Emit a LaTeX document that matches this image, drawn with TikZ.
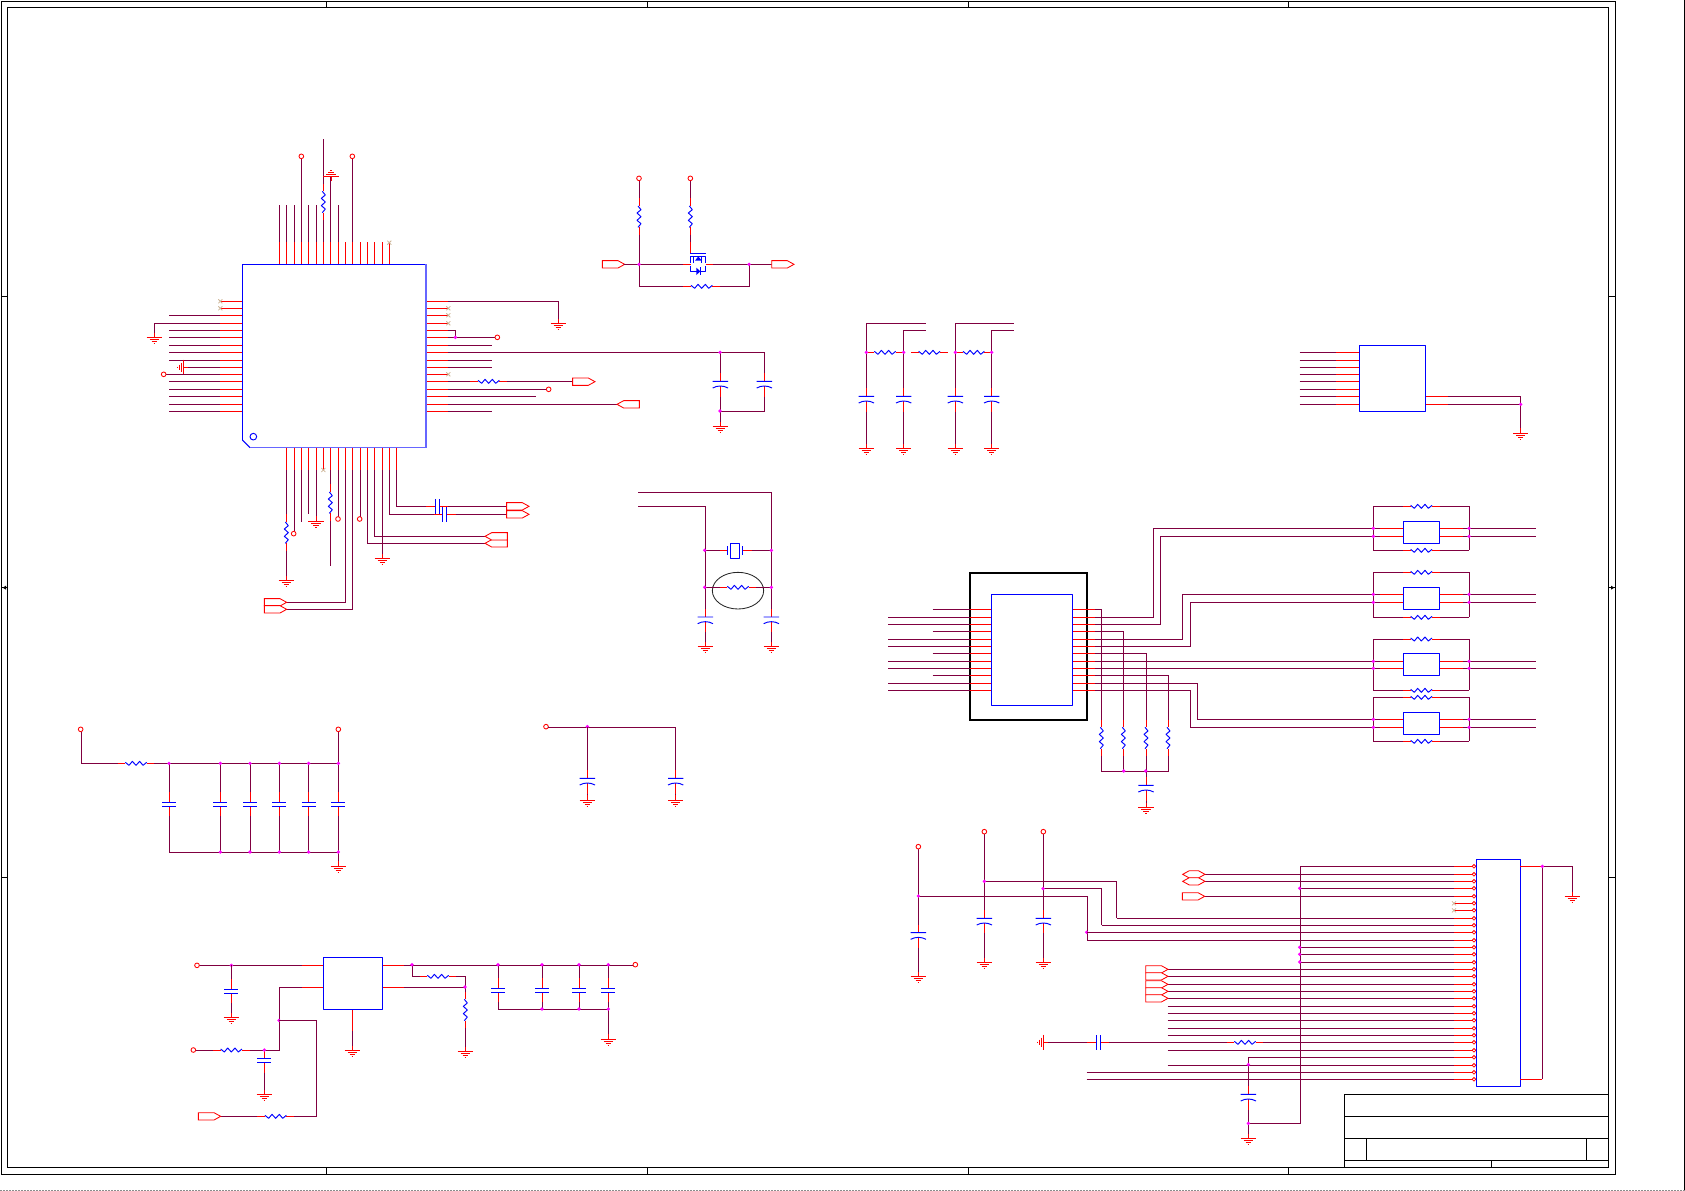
\documentclass[tikz,border=0pt]{standalone}
\definecolor{wirec}{RGB}{128,0,64}
\definecolor{xmk}{RGB}{205,180,150}
\definecolor{juncc}{RGB}{255,0,255}
\tikzset{
 wirel/.style={draw=wirec,line width=0.95pt},
 pinl/.style={draw=red,line width=0.95pt},
 compl/.style={draw=blue,line width=0.95pt,line join=round},
 gndl/.style={draw=red,line width=0.8pt},
 framl/.style={draw=black,line width=0.95pt},
 opl/.style={draw=red,fill=white,line width=0.85pt}
}
\newcommand\Wr[1]{\draw[wirel] #1;}
\newcommand\Pn[1]{\draw[pinl] #1;}
\newcommand\Gnd[2]{\begin{scope}[shift={(#1,#2)}]
 \draw[gndl] (0,-14)--(0,0) (-23,0)--(23,0) (-14,6)--(14,6) (-8,12)--(8,12) (-2,18)--(2,18);\end{scope}}
\newcommand\GndUp[2]{\begin{scope}[shift={(#1,#2)}]
 \draw[gndl] (0,14)--(0,0) (-23,0)--(23,0) (-14,-6)--(14,-6) (-8,-12)--(8,-12) (-2,-18)--(2,-18);\end{scope}}
\newcommand\GndL[2]{\begin{scope}[shift={(#1,#2)}]
 \draw[gndl] (14,0)--(0,0) (0,-23)--(0,23) (-6,-14)--(-6,14) (-12,-8)--(-12,8) (-18,-2)--(-18,2);\end{scope}}
\newcommand\Oc{}
\renewcommand\Oc[2]{\draw[red,fill=white,line width=0.85pt] (#1,#2) circle[radius=7];}
\newcommand\Oq[2]{\draw[red,fill=white,line width=0.75pt] (#1,#2) circle[radius=5.5];}
\newcommand\Jn[2]{\fill[juncc] (#1,#2) circle[radius=5.5];}
\newcommand\Xm[2]{\draw[xmk,line width=0.8pt] (#1-6,#2-6)--(#1+6,#2+6) (#1-6,#2+6)--(#1+6,#2-6);}
\newcommand\Zig{\draw[compl] (-32,-3)--(-21,6)--(-11,-6)--(0,6)--(11,-6)--(21,6)--(32,-3);\draw[pinl] (-55,0)--(-32,0) (32,0)--(55,0);}
\newcommand\ResH[2]{\begin{scope}[shift={(#1,#2)}]\Zig\end{scope}}
\newcommand\ResV[2]{\begin{scope}[shift={(#1,#2)},rotate=90]\Zig\end{scope}}
\newcommand\CapF[2]{\begin{scope}[shift={(#1,#2)}]
 \draw[pinl] (0,-36)--(0,-6) (0,6)--(0,36);
 \draw[compl] (-21,-6)--(21,-6) (-21,6)--(21,6);\end{scope}}
\newcommand\CapC[2]{\begin{scope}[shift={(#1,#2)}]
 \draw[pinl] (0,-34)--(0,-10) (0,4)--(0,36);
 \draw[compl] (-23,-10)--(23,-10) (-23,10) .. controls (-9,2) and (9,2) .. (23,10);\end{scope}}
\newcommand\CapH[2]{\begin{scope}[shift={(#1,#2)}]
 \draw[pinl] (-33,0)--(-6,0) (6,0)--(33,0);
 \draw[compl] (-6,-22)--(-6,22) (6,-22)--(6,22);\end{scope}}
\newcommand\OpR[2]{\begin{scope}[shift={(#1,#2)}]\draw[opl] (0,-11)--(47,-11)--(67,0)--(47,11)--(0,11)--cycle;\end{scope}}
\newcommand\OpL[2]{\begin{scope}[shift={(#1,#2)}]\draw[opl] (0,-11)--(-47,-11)--(-67,0)--(-47,11)--(0,11)--cycle;\end{scope}}
\newcommand\OpB[2]{\begin{scope}[shift={(#1,#2)}]\draw[opl] (0,0)--(20,-11)--(47,-11)--(67,0)--(47,11)--(20,11)--cycle;\end{scope}}
\begin{document}
\begin{tikzpicture}[x=0.33333pt,y=-0.33333pt]
\useasboundingbox (0,0) rectangle (5055,3573);
% ---- sheet frame
\draw[framl] (4,4) rectangle (4847,3523);
\draw[framl] (22,22) rectangle (4825,3502);
\foreach \x in {980,1941,2904,3865}{\draw[framl] (\x,4)--(\x,22) (\x,3502)--(\x,3523);}
\foreach \y in {890,1763,2631}{\draw[framl] (4,\y)--(22,\y) (4825,\y)--(4847,\y);}
\fill (8,1763)--(18,1757)--(18,1769)--cycle;
\fill (4843,1763)--(4833,1757)--(4833,1769)--cycle;
\draw[framl] (5053,0)--(5053,3573);
\draw[black!45,line width=0.6pt,dash pattern=on 1.5pt off 1.5pt] (0,3572)--(5055,3572);
% title block
\draw[framl] (4033,3283)--(4825,3283) (4033,3349)--(4825,3349) (4033,3415)--(4825,3415) (4033,3481)--(4825,3481);
\draw[framl] (4033,3283)--(4033,3502) (4099,3415)--(4099,3481) (4759,3415)--(4759,3481) (4474,3481)--(4474,3502);
% ---- main IC
\begin{scope}[shift={(390,390)}]
 \foreach \x in {448,469,493,514,535,559,580,601,625,646,667,691,712,733,757,778}{\Pn{(\x,403)--(\x,335)}}
 \foreach \x in {448,469,493,535,559,625}{\Wr{(\x,335)--(\x,225)}}
 \Wr{(514,335)--(514,85)} \Oc{514}{79}
 \Wr{(667,335)--(667,85)} \Oc{667}{79}
 \Wr{(580,335)--(580,271)} \ResV{580}{216} \Wr{(580,161)--(580,27)}
 \Wr{(601,335)--(601,140)} \GndUp{603}{139}
 \Xm{778}{338}
 % left
 \foreach \y in {514,535,556,580,601,622,646,667,691,712,733,754,778,799,823,844}{\Pn{(270,\y)--(337,\y)}}
 \foreach \y in {556,601,622,646,667,691,754,778,799,823,844}{\Wr{(117,\y)--(270,\y)}}
 \Xm{271}{514} \Xm{271}{535}
 \Wr{(270,580)--(73,580)--(73,620)} \Gnd{73}{622}
 \Wr{(270,712)--(160,712)} \GndL{160}{712}
 \Wr{(270,733)--(108,733)} \Oc{101}{733}
 % right
 \foreach \y in {514,535,556,580,601,622,646,667,691,712,733,754,778,799,823,844}{\Pn{(888,\y)--(955,\y)}}
 \foreach \y in {535,556,580,733}{\Xm{955}{\y}}
 \Wr{(955,514)--(1285,514)--(1285,578)} \Gnd{1285}{580}
 \Wr{(955,601)--(976,601)--(976,622)}
 \Wr{(955,622)--(1095,622)} \Jn{976}{622} \Oc{1102}{622}
 \foreach \y in {646,691,712,844}{\Wr{(955,\y)--(1087,\y)}}
 \Wr{(955,667)--(1770,667)}
 \Wr{(955,754)--(1021,754)} \ResH{1076}{754} \Wr{(1131,754)--(1328,754)} \OpR{1328}{755}
 \Wr{(955,778)--(1250,778)} \Oc{1256}{778}
 \Wr{(955,799)--(1219,799)}
 \Wr{(955,823)--(1462,823)} \OpL{1528}{823}
 % body
 \draw[compl] (337,930)--(337,403)--(888,403);
 \draw[compl] (337,930)--(360,953);
 \draw[blue!60!white,line width=1.5pt,line join=miter] (888,403)--(888,953)--(360,953);
 \draw[compl] (370,920) circle[radius=10];
\end{scope}
% ---- below the IC
\begin{scope}[shift={(390,1290)}]
 \foreach \x in {469,493,514,535,559,580,601,625,646,667,691,712,733,757,778,799}{\Pn{(\x,53)--(\x,120)}}
 \Wr{(469,120)--(469,253)} \ResV{469}{308} \Wr{(469,363)--(469,450)} \Gnd{469}{452}
 \Wr{(493,120)--(493,304)} \Oc{491}{311}
 \Wr{(514,120)--(514,275)}
 \Wr{(535,120)--(535,253)}
 \Wr{(559,120)--(559,272)} \Gnd{558}{273}
 \Xm{580}{120}
 \Wr{(601,120)--(601,163)} \ResV{601}{218} \Wr{(601,273)--(601,407)}
 \Wr{(625,120)--(625,260)} \Oc{624}{267}
 \Wr{(691,120)--(691,260)} \Oc{689}{267}
 \Wr{(646,120)--(646,517)--(470,517)} \OpR{403}{517}
 \Wr{(667,120)--(667,538)--(470,538)} \OpR{403}{538}
 \Wr{(712,120)--(712,340)--(1067,340)} \OpL{1132}{340}
 \Wr{(733,120)--(733,319)--(1067,319)} \OpL{1132}{319}
 \Wr{(757,120)--(757,383)} \Gnd{757}{385}
 \Wr{(799,120)--(799,229)--(888,229)} \CapH{921}{229} \Wr{(954,229)--(1130,229)} \OpR{1130}{229}
 \Wr{(778,120)--(778,253)--(911,253)} \CapH{944}{253} \Wr{(977,253)--(1130,253)} \OpR{1130}{253}
\end{scope}
% ---- FET level shifter and two caps
\begin{scope}[shift={(1200,480)}]
 \Wr{(717,62)--(717,115)} \Oc{717}{55} \ResV{717}{170}
 \Wr{(717,225)--(717,379)--(850,379)} \ResH{905}{379} \Wr{(960,379)--(1048,379)--(1048,313)}
 \Wr{(871,62)--(871,115)} \Oc{871}{55} \ResV{871}{170}
 \Wr{(871,225)--(871,247)} \Pn{(871,247)--(871,280)}
 \OpR{607}{313} \Wr{(673,313)--(850,313)} \Pn{(850,313)--(872,313)}
 \Pn{(917,313)--(940,313)} \Wr{(940,313)--(1115,313)} \OpR{1115}{313}
 \draw[compl] (871,280)--(917,280);
 \draw[compl] (872,309)--(872,290)--(915,290)--(915,309);
 \draw[compl] (872,317)--(872,335)--(915,335)--(915,317);
 \draw[compl] (880,290)--(880,309) (905,290)--(905,309);
 \fill[blue] (895,289)--(885,302)--(905,302)--cycle;
 \fill[blue] (889,323)--(889,345)--(901,334)--cycle;
 \draw[compl] (902,322)--(902,346);
 \Jn{717}{313} \Jn{1047}{313}
 \Wr{(961,577)--(961,640)} \CapC{961}{674} \Wr{(961,710)--(961,798)} \Gnd{961}{800}
 \Wr{(961,577)--(1093,577)--(1093,640)} \CapC{1093}{674} \Wr{(1093,710)--(1093,754)--(961,754)}
 \Jn{960}{577} \Jn{960}{753}
\end{scope}
% ---- crystal
\begin{scope}[shift={(1860,1440)}]
 \Wr{(55,37)--(454,37)--(454,387)} \CapC{454}{421} \Wr{(454,457)--(454,497)} \Gnd{454}{499}
 \Wr{(55,79)--(256,79)--(256,387)} \CapC{256}{421} \Wr{(256,457)--(256,497)} \Gnd{256}{499}
 \Wr{(256,211)--(300,211)} \Pn{(300,211)--(322,211)}
 \Pn{(368,211)--(395,211)} \Wr{(395,211)--(454,211)}
 \draw[compl] (322,198)--(322,225) (368,198)--(368,225) (332,189) rectangle (358,236);
 \draw[black!85,line width=0.85pt] (354,332) ellipse[x radius=77,y radius=55];
 \Wr{(256,322)--(299,322)} \ResH{354}{322} \Wr{(409,322)--(454,322)}
 \Jn{254}{211} \Jn{454}{211} \Jn{254}{322} \Jn{454}{322}
\end{scope}
% ---- filter network and 8-pin IC
\begin{scope}[shift={(2550,930)}]
 \foreach \x/\e/\t in {49/227/40,161/227/61,316/491/40,425/491/61}{
   \Wr{(\e,\t)--(\x,\t)--(\x,235)} \CapC{\x}{269} \Wr{(\x,305)--(\x,413)} \Gnd{\x}{415}}
 \ResH{105}{127} \ResH{238}{127} \ResH{371}{127}
 \foreach \x in {49,161,316,425}{\Jn{\x}{127}}
 \foreach \y in {127,151,172,193,214,238,259,283}{\Pn{(1459,\y)--(1528,\y)} \Wr{(1349,\y)--(1459,\y)}}
 \draw[compl] (1528,106) rectangle (1727,304);
 \Pn{(1727,259)--(1794,259)} \Pn{(1727,283)--(1794,283)}
 \Wr{(1794,259)--(2012,259)--(2012,367)} \Wr{(1794,283)--(2012,283)}
 \Jn{2012}{283} \Gnd{2012}{369}
\end{scope}
% ---- transformer IC and resistors
\begin{scope}[shift={(2610,1680)}]
 \draw[black,line width=2pt] (300,40) rectangle (652,480);
 \foreach \y in {148,214,280,346}{\Wr{(188,\y)--(300,\y)}}
 \foreach \y in {172,193,238,259,304,325,370,391}{\Wr{(55,\y)--(300,\y)}}
 \foreach \y in {148,172,193,214,238,259,280,304,325,346,370,391}{\Pn{(300,\y)--(364,\y)} \Pn{(607,\y)--(675,\y)}}
 \draw[compl] (364,103) rectangle (607,436);
 \Wr{(675,148)--(694,148)--(694,479)} \ResV{694}{534}
 \Wr{(675,214)--(760,214)--(760,479)} \ResV{760}{534}
 \Wr{(675,280)--(829,280)--(829,479)} \ResV{828}{534}
 \Wr{(675,346)--(895,346)--(895,479)} \ResV{894}{534}
 \Wr{(694,589)--(694,633)--(895,633)--(895,589)}
 \Wr{(760,589)--(760,633)} \Wr{(828,589)--(828,652)}
 \CapC{828}{686} \Wr{(828,722)--(828,741)} \Gnd{828}{743}
 \Jn{761}{633} \Jn{827}{633}
\end{scope}
% ---- four coupled channels
\begin{scope}[shift={(3390,1470)}]
 \Wr{(-105,382)--(70,382)--(70,115)--(730,115)}
 \Wr{(-105,403)--(91,403)--(91,139)--(730,139)}
 \Wr{(-105,448)--(157,448)--(157,313)--(730,313)}
 \Wr{(-105,469)--(181,469)--(181,337)--(730,337)}
 \Wr{(-105,514)--(730,514)}
 \Wr{(-105,535)--(730,535)}
 \Wr{(-105,580)--(202,580)--(202,688)--(730,688)}
 \Wr{(-105,601)--(181,601)--(181,712)--(730,712)}
 \foreach \ya/\yb/\tt/\bb/\bt/\bo in {115/139/49/181/94/160,313/337/247/382/292/358,514/535/447/601/490/556,688/712/622/754/667/733}{
   \Wr{(730,\tt)--(730,\bb)} \Wr{(1018,\tt)--(1018,\bb)}
   \Wr{(730,\tt)--(819,\tt)} \Wr{(929,\tt)--(1018,\tt)} \ResH{874}{\tt}
   \Wr{(730,\bb)--(819,\bb)} \Wr{(929,\bb)--(1018,\bb)} \ResH{874}{\bb}
   \foreach \y in {\ya,\yb}{
     \Pn{(750,\y)--(820,\y)} \Pn{(928,\y)--(998,\y)}
     \Wr{(730,\y)--(750,\y)} \Wr{(998,\y)--(1217,\y)}
     \Jn{730}{\y} \Jn{1017}{\y}}
   \draw[compl] (820,\bt) rectangle (928,\bo);
 }
\end{scope}
% ---- three supply caps, left of connector
\begin{scope}[shift={(2670,2460)}]
 \Wr{(85,87)--(85,315)} \Oc{85}{80} \CapC{85}{348} \Wr{(85,383)--(85,468)} \Gnd{85}{470}
 \Wr{(283,42)--(283,272)} \Oc{283}{35} \CapC{283}{305} \Wr{(283,340)--(283,426)} \Gnd{283}{428}
 \Wr{(460,42)--(460,272)} \Oc{460}{35} \CapC{460}{305} \Wr{(460,340)--(460,426)} \Gnd{460}{428}
 \Wr{(283,184)--(680,184)--(680,295)}
 \Wr{(459,206)--(635,206)--(635,316)}
 \Wr{(85,229)--(592,229)--(592,361)}
 \Jn{85}{228} \Jn{283}{184} \Jn{459}{206} \Jn{590}{337}
 \GndL{460}{667} \Wr{(474,667)--(591,667)} \CapH{624}{667}
\end{scope}
% ---- connector
\begin{scope}[shift={(3390,2550)}]
 \foreach \y in {49,73,94,115,139,160,181,205,226,247,271,292,313,337,358,379,403,424,445,469,490,511,535,556,577,601,622,646,667,688}{
   \Pn{(972,\y)--(1032,\y)}}
 \foreach \y in {160,181}{\Xm{972}{\y}}
 \Wr{(-40,205)--(972,205)} \Wr{(-85,226)--(972,226)} \Wr{(-128,247)--(972,247)} \Wr{(-128,271)--(972,271)}
 \Wr{(511,49)--(972,49)} \foreach \y in {115,292,313,337}{\Wr{(511,\y)--(972,\y)}}
 \Wr{(511,49)--(511,820)--(355,820)}
 \foreach \y in {115,292,313,336}{\Jn{509}{\y}}
 \foreach \y in {73,94}{\Wr{(224,\y)--(972,\y)} \OpB{158}{\y}}
 \Wr{(224,139)--(972,139)} \OpR{157}{139}
 \foreach \y in {358,379,403,424,445}{\Wr{(113,\y)--(972,\y)} \OpR{47}{\y}}
 \foreach \y in {469,490,511,535,556,601,646}{\Wr{(113,\y)--(972,\y)}}
 \Wr{(-63,577)--(290,577)} \ResH{345}{577} \Wr{(400,577)--(972,577)}
 \Wr{(-130,667)--(972,667)} \Wr{(-130,688)--(972,688)}
 \Wr{(355,622)--(972,622)} \Wr{(355,622)--(355,709)} \CapC{355}{743} \Wr{(355,779)--(355,863)} \Gnd{355}{865}
 \Jn{355}{644} \Jn{355}{820}
 \foreach \y in {49,73,94,115,139,160,181,205,226,247,271,292,313,337,358,379,403,424,445,469,490,511,535,556,577,601,622,646,667,688}{\Oq{1032}{\y}}
 \draw[compl] (1039,28) rectangle (1171,709);
 \Pn{(1171,49)--(1237,49)} \Pn{(1171,688)--(1237,688)}
 \Wr{(1237,688)--(1237,49)--(1327,49)--(1327,137)} \Jn{1237}{49} \Gnd{1327}{139}
\end{scope}
% ---- regulator
\begin{scope}[shift={(510,2820)}]
 \Wr{(88,76)--(395,76)} \Oc{81}{76} \Pn{(395,76)--(460,76)} \Jn{184}{76}
 \Wr{(184,76)--(184,118)} \CapF{184}{154} \Wr{(184,190)--(184,231)} \Gnd{184}{233}
 \Pn{(395,142)--(460,142)} \Wr{(395,142)--(328,142)--(328,330)--(238,330)}
 \ResH{184}{330} \Wr{(129,330)--(77,330)} \Oc{70}{330}
 \CapF{283}{362} \Wr{(283,398)--(283,461)} \Gnd{283}{463}
 \Jn{283}{330} \Jn{327}{241}
 \Wr{(328,241)--(439,241)--(439,529)--(372,529)} \ResH{317}{529} \Wr{(262,529)--(150,529)} \OpR{85}{529}
 \Pn{(547,208)--(547,273)} \Wr{(547,273)--(547,329)} \Gnd{547}{331}
 \Pn{(637,76)--(703,76)} \Wr{(703,76)--(1390,76)} \Oc{1396}{74}
 \Wr{(727,76)--(727,109)--(749,109)} \ResH{804}{109} \Wr{(859,109)--(886,109)--(886,155)}
 \Pn{(637,142)--(703,142)} \Wr{(703,142)--(886,142)}
 \ResV{886}{210} \Wr{(886,265)--(886,333)} \Gnd{886}{335}
 \foreach \x in {984,1116,1228,1315}{\Wr{(\x,76)--(\x,115)} \CapF{\x}{151}}
 \Wr{(984,187)--(984,208)--(1315,208)}
 \foreach \x in {1116,1228}{\Wr{(\x,187)--(\x,208)}}
 \Wr{(1315,187)--(1315,295)} \Gnd{1315}{297}
 \foreach \x in {726,984,1116,1227,1315}{\Jn{\x}{74}}
 \foreach \x in {1116,1227,1315}{\Jn{\x}{207}}
 \Jn{885}{141}
 \draw[compl] (460,52) rectangle (637,208);
\end{scope}
% ---- filter rail and two caps
\begin{scope}[shift={(180,2130)}]
 \Oc{62}{58} \Wr{(63,65)--(63,160)--(173,160)} \ResH{228}{160} \Wr{(283,160)--(835,160)}
 \Oc{835}{58} \Wr{(835,65)--(835,246)}
 \foreach \x in {327,481,570,658,746,835}{
   \Wr{(\x,160)--(\x,246)} \CapF{\x}{282} \Wr{(\x,318)--(\x,427)}}
 \Wr{(327,427)--(835,427)--(835,466)} \Gnd{835}{468}
 \foreach \x in {327,481,570,658,746,835}{\Jn{\x}{160}}
 \foreach \x in {481,570,658,746,835}{\Jn{\x}{426}}
 \Oc{1458}{50} \Wr{(1465,52)--(1847,52)}
 \Jn{1582}{50}
 \foreach \x in {1582,1847}{
   \Wr{(\x,52)--(\x,181)} \CapC{\x}{215} \Wr{(\x,251)--(\x,268)} \Gnd{\x}{270}}
\end{scope}
\end{tikzpicture}
\end{document}
